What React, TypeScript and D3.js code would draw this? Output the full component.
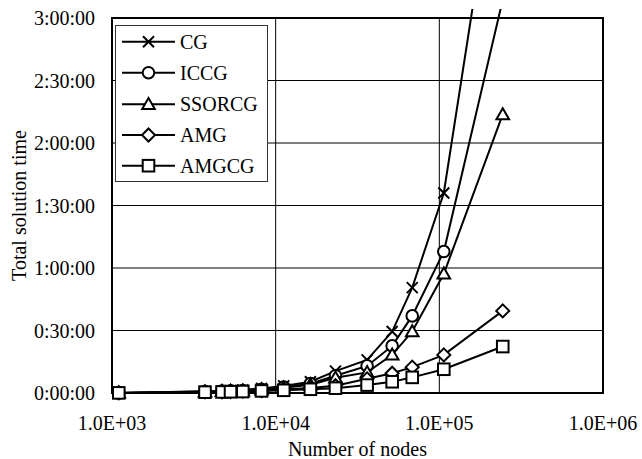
import React from 'react';
import * as d3 from 'd3';

// Number of nodes (x) and total solution time in minutes (y)
const nodes = [1100, 3700, 4700, 5300, 6300, 8200, 11200, 16300, 23200, 36200, 51500, 68300, 106500, 244000];
const cgTimes = [0.05, 0.8, 1.0, 1.2, 1.5, 2.2, 3.4, 5.4, 10.5, 15.9, 29.5, 50.6, 96, 278];
const iccgTimes = [0.05, 0.7, 0.9, 1.0, 1.2, 1.8, 2.8, 4.5, 8.3, 13, 22.6, 37, 67.9, 188.8];
const ssorcgTimes = [0.05, 0.6, 0.8, 0.9, 1.1, 1.6, 2.5, 4.0, 7.3, 9.9, 18.3, 29.5, 57.2, 133.7];
const amgTimes = [0.05, 0.5, 0.6, 0.7, 0.9, 1.2, 1.7, 2.4, 3.5, 6.8, 9.5, 12.4, 18.3, 39.4];
const amgcgTimes = [0.05, 0.4, 0.5, 0.6, 0.7, 1.0, 1.3, 1.8, 2.3, 3.8, 5.4, 7.5, 11.4, 22.3];
const seriesNames = ['CG', 'ICCG', 'SSORCG', 'AMG', 'AMGCG'];
const seriesValues = [cgTimes, iccgTimes, ssorcgTimes, amgTimes, amgcgTimes];
const markerKinds = ['x', 'circle', 'triangle', 'diamond', 'square'];
const yTicks = [0, 30, 60, 90, 120, 150, 180];
const xTicks = [1e3, 1e4, 1e5, 1e6];

const W = 642, H = 459;
const L = 112, R = 603, T = 18, B = 393;
const FONT = '"Liberation Serif", "Times New Roman", serif';

const x = d3.scaleLog().domain([1e3, 1e6]).range([L, R]);
const y = d3.scaleLinear().domain([0, 180]).range([B, T]);

const fmtTime = (m: number) => `${Math.floor(m / 60)}:${String(m % 60).padStart(2, '0')}:00`;
const fmtX = (v: number) => `1.0E+0${Math.round(Math.log10(v))}`;

function Marker({ kind, cx, cy }: { kind: string; cx: number; cy: number }) {
  const st = { fill: '#fff', stroke: '#000', strokeWidth: 2 };
  if (kind === 'x') {
    const s = 5.5;
    return (
      <path d={`M${cx - s},${cy - s}L${cx + s},${cy + s}M${cx - s},${cy + s}L${cx + s},${cy - s}`} stroke="#000" strokeWidth={2} fill="none" />
    );
  }
  if (kind === 'circle') return <circle cx={cx} cy={cy} r={5.8} {...st} />;
  if (kind === 'square') return <rect x={cx - 5.8} y={cy - 5.8} width={11.6} height={11.6} {...st} />;
  if (kind === 'diamond') {
    const s = 6.5;
    return <path d={`M${cx},${cy - s}L${cx + s},${cy}L${cx},${cy + s}L${cx - s},${cy}Z`} {...st} />;
  }
  const s = 6.3;
  return <path d={`M${cx},${cy - s}L${cx + s},${cy + s * 0.75}L${cx - s},${cy + s * 0.75}Z`} {...st} />;
}

export default function App() {
  const line = d3.line<number>().x((_, i) => x(nodes[i])).y((d) => y(d));
  const legendY = [41.7, 72.7, 104.3, 135, 165.7];
  return (
    <svg width={W} height={H} style={{ position: 'absolute', left: 0, top: 0, background: '#fff' }} fontFamily={FONT}>
      <defs>
        <clipPath id="clip">
          <rect x={L} y={9} width={R - L} height={B - 9 + 10} />
        </clipPath>
      </defs>
      <rect x={0} y={0} width={W} height={H} fill="#fff" />
      {/* gridlines */}
      {yTicks.map((t) => (
        <line key={'gy' + t} x1={L} x2={R} y1={y(t)} y2={y(t)} stroke="#000" strokeWidth={1} />
      ))}
      {xTicks.map((t) => (
        <line key={'gx' + t} x1={x(t)} x2={x(t)} y1={T} y2={B} stroke="#000" strokeWidth={1} />
      ))}
      {/* plot frame */}
      <rect x={L} y={T} width={R - L} height={B - T} fill="none" stroke="#000" strokeWidth={2} />
      {/* series */}
      <g clipPath="url(#clip)">
        {seriesValues.map((vals, si) => (
          <g key={seriesNames[si]}>
            <path d={line(vals) || ''} fill="none" stroke="#000" strokeWidth={2} />
            {vals.map((v, i) => (
              <Marker key={i} kind={markerKinds[si]} cx={x(nodes[i])} cy={y(v)} />
            ))}
          </g>
        ))}
      </g>
      {/* y tick labels */}
      {yTicks.map((t) => (
        <text key={'ty' + t} x={95} y={y(t)} dy="0.35em" textAnchor="end" fontSize={20}>
          {fmtTime(t)}
        </text>
      ))}
      {/* x tick labels */}
      {xTicks.map((t) => (
        <text key={'tx' + t} x={x(t)} y={430} textAnchor="middle" fontSize={20}>
          {fmtX(t)}
        </text>
      ))}
      <text x={(L + R) / 2} y={456} textAnchor="middle" fontSize={20}>Number of nodes</text>
      <text transform={`translate(26,${(T + B) / 2}) rotate(-90)`} textAnchor="middle" fontSize={20}>Total solution time</text>
      {/* legend */}
      <rect x={115.5} y={25.5} width={152} height={156} fill="#fff" stroke="#333" strokeWidth={1} />
      {seriesNames.map((n, i) => (
        <g key={'lg' + n}>
          <line x1={122} x2={175} y1={legendY[i]} y2={legendY[i]} stroke="#000" strokeWidth={2} />
          <Marker kind={markerKinds[i]} cx={148.5} cy={legendY[i]} />
          <text x={180} y={legendY[i]} dy="0.35em" fontSize={20}>{n}</text>
        </g>
      ))}
    </svg>
  );
}
